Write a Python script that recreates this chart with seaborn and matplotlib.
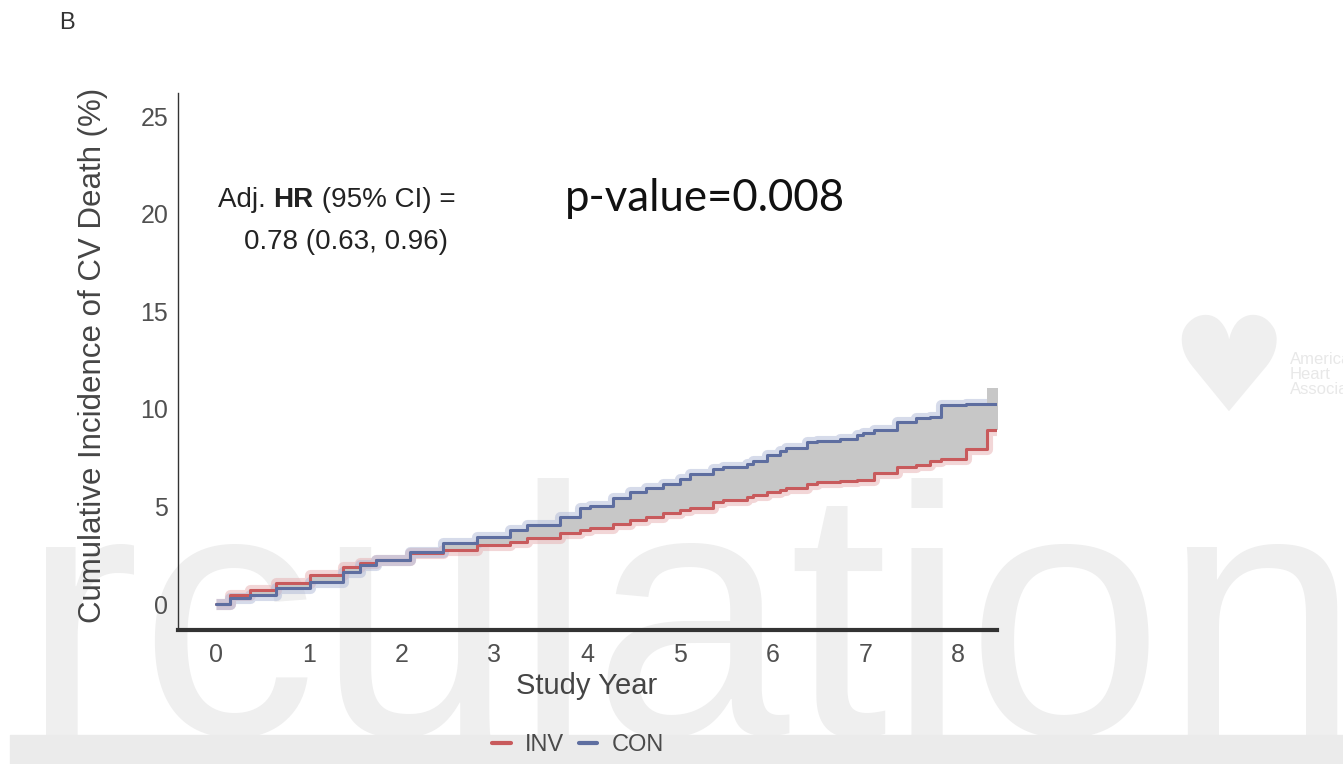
import matplotlib
matplotlib.use("Agg")
import matplotlib.pyplot as plt
from matplotlib.lines import Line2D
from matplotlib.patches import Rectangle
import numpy as np
import pandas as pd
import seaborn as sns

# ---------------- data ----------------
years = [0, 0.15, 0.37, 0.65, 1.01, 1.37, 1.55, 1.73, 2.09, 2.45, 2.81, 3.17,
         3.35, 3.71, 3.92, 4.03, 4.28, 4.46, 4.64, 4.82, 5.0, 5.11, 5.36, 5.47,
         5.72, 5.79, 5.94, 6.08, 6.15, 6.37, 6.48, 6.73, 6.91, 6.98, 7.09, 7.34,
         7.55, 7.70, 7.82, 8.09, 8.31, 8.43]
inv = [0, 0.46, 0.72, 1.06, 1.49, 1.92, 2.10, 2.26, 2.60, 2.77, 3.03, 3.20,
       3.37, 3.63, 3.80, 3.90, 4.10, 4.30, 4.48, 4.65, 4.83, 4.95, 5.25, 5.35,
       5.51, 5.60, 5.72, 5.85, 5.95, 6.15, 6.28, 6.32, 6.35, 6.37, 6.71, 7.02,
       7.15, 7.31, 7.43, 7.94, 8.90, 8.90]
con = [0, 0.29, 0.46, 0.80, 1.14, 1.66, 2.00, 2.26, 2.68, 3.12, 3.45, 3.80,
       4.06, 4.48, 4.90, 5.03, 5.42, 5.77, 5.95, 6.16, 6.40, 6.67, 6.90, 7.02,
       7.20, 7.31, 7.65, 7.85, 7.99, 8.33, 8.38, 8.45, 8.68, 8.75, 8.93, 9.31,
       9.53, 9.58, 10.22, 10.24, 10.27, 10.27]
con_tail_years = [8.31, 8.43]
con_tail_low = [10.2, 10.2]
con_tail_high = [11.1, 11.1]

arms = ["INV", "CON"]
x_ticks = [0, 1, 2, 3, 4, 5, 6, 7, 8]
y_ticks = [0, 5, 10, 15, 20, 25]
x_label = "Study Year"
y_label = "Cumulative Incidence of CV Death (%)"
hr_line1 = ["Adj. ", "HR", " (95% CI) ="]
hr_line2 = "0.78 (0.63, 0.96)"
p_text = "p-value=0.008"
panel = "B"
watermark = "rculation"
aha_text = "American\nHeart\nAssociation"

# ---------------- style ----------------
sns.set_theme(style="white")
plt.rcParams["font.family"] = ["Liberation Sans", "DejaVu Sans"]

RED = "#c85a5c"
BLUE = "#5e6ea0"
RED_RIB = "#e6aeb0"
BLUE_RIB = "#aeb8d6"
GRAY_FILL = "#c7c7c7"
TXT = "#454545"

W, H = 1343, 764
fig = plt.figure(figsize=(W / 100, H / 100), dpi=100)
fig.patch.set_facecolor("white")

# background watermark and band
fig.patches.append(Rectangle((10 / W, 0), 1, 29 / H, transform=fig.transFigure,
                             color="#ebebeb", zorder=-2))
fig.text(22 / W, 1 - 735 / H, watermark, fontsize=255, color="#efefef",
         ha="left", va="baseline", zorder=-3, family="Liberation Sans")
fig.text(1228 / W, 1 - 375 / H, "\u2665", fontsize=95, color="#efefef",
         ha="center", va="center", zorder=-3, family="DejaVu Sans")
fig.text(1290 / W, 1 - 352 / H, aha_text, fontsize=12, color="#e8e8e8",
         ha="left", va="top", linespacing=1.0, zorder=-3)

ax = fig.add_axes([178 / W, 1 - 630 / H, (997 - 178) / W, (630 - 93) / H])
ax.patch.set_alpha(0)

df = pd.DataFrame({
    "year": years + years,
    "inc": inv + con,
    "arm": [arms[0]] * len(years) + [arms[1]] * len(years),
})

# confidence ribbons (wide translucent underlay)
sns.lineplot(data=df, x="year", y="inc", hue="arm",
             palette={"INV": RED_RIB, "CON": BLUE_RIB},
             drawstyle="steps-post", estimator=None, lw=8, alpha=0.5,
             legend=False, ax=ax, solid_capstyle="butt")
# shaded region between the curves
ax.fill_between(years, inv, con, step="post", color=GRAY_FILL, lw=0, zorder=2)
ax.fill_between(con_tail_years, con_tail_low, con_tail_high, color=GRAY_FILL,
                lw=0, zorder=2)
# main step lines
sns.lineplot(data=df, x="year", y="inc", hue="arm",
             palette={"INV": RED, "CON": BLUE},
             drawstyle="steps-post", estimator=None, lw=2.2,
             legend=False, ax=ax, zorder=3)

ax.set_xlim(-0.41, 8.42)
ax.set_ylim(-1.33, 26.2)
ax.set_xticks(x_ticks)
ax.set_yticks(y_ticks)
ax.set_xticklabels([str(v) for v in x_ticks])
ax.set_yticklabels([str(v) for v in y_ticks])
for s in ["top", "right"]:
    ax.spines[s].set_visible(False)
ax.spines["left"].set_color("#333333")
ax.spines["left"].set_linewidth(1.0)
ax.spines["bottom"].set_color("#333333")
ax.spines["bottom"].set_linewidth(3.0)
ax.tick_params(axis="both", direction="out", length=4, width=1,
               color="#333333", labelsize=18, labelcolor="#505050")
ax.tick_params(axis="x", pad=5)
ax.tick_params(axis="y", pad=3)
ax.grid(False)

ax.set_xlabel(x_label, fontsize=21, color=TXT)
ax.set_ylabel(y_label, fontsize=22.5, color=TXT)
ax.xaxis.set_label_coords((587 - 178) / 819, (630 - 672) / 537)
ax.yaxis.set_label_coords((108 - 178) / 819, (630 - 355) / 537)

# annotations
HR_FS = 20
t1 = fig.text(218 / W, 1 - 200 / H, hr_line1[0], fontsize=HR_FS, color="#222222",
              ha="left", va="center")
t2 = ax.annotate(hr_line1[1], xy=(1, 0), xycoords=t1, ha="left", va="bottom",
                 fontsize=HR_FS, color="#222222", fontweight="bold")
ax.annotate(hr_line1[2], xy=(1, 0), xycoords=t2, ha="left", va="bottom",
            fontsize=HR_FS, color="#222222")
fig.text(346 / W, 1 - 242 / H, hr_line2, fontsize=HR_FS, color="#222222",
         ha="center", va="center")
fig.text(565 / W, 1 - 198 / H, p_text, fontsize=31.5, color="#111111",
         ha="left", va="center", family=["Lato", "DejaVu Sans"])
fig.text(67 / W, 1 - 23 / H, panel, fontsize=17, color="#333333",
         ha="center", va="center")

# legend
handles = [Line2D([0], [0], color=RED, lw=3), Line2D([0], [0], color=BLUE, lw=3)]
fig.legend(handles, arms, loc="center", bbox_to_anchor=(578 / W, 1 - 745 / H),
           ncol=2, frameon=False, handlelength=0.8, handletextpad=0.6,
           columnspacing=0.6, fontsize=17, labelcolor="#4a4a4a")

fig.savefig("out.png", dpi=100)
